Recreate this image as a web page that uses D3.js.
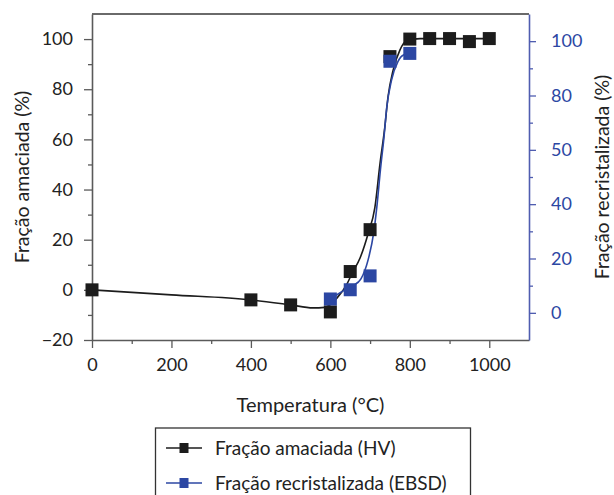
<!DOCTYPE html>
<html><head><meta charset="utf-8">
<script src="https://cdn.jsdelivr.net/npm/d3@7"></script>
<style>
html,body{margin:0;padding:0;background:#fff;}
svg{display:block;font-family:Lato,"Open Sans",sans-serif;}
</style></head>
<body>
<svg id="chart" width="614" height="495"></svg>
<script>
// ---- data ----
const hvTemp = [0, 400, 500, 600, 650, 700, 750, 800, 850, 900, 950, 1000];
const hvValues = [0, -4, -6, -8.8, 7.3, 24, 93, 100, 100.2, 100.2, 99, 100.2];
const ebsdTemp = [600, 650, 700, 750, 800];
const ebsdValues = [5.1, 8.5, 13.6, 92.6, 95.5];
// fitted curves
const hvFitTemp = [0, 200, 400, 500, 556, 586, 617, 642, 654, 675, 695, 712, 725, 737, 745, 758, 775, 793, 826, 1000];
const hvFitValues = [0, -2, -4, -6, -7.2, -7.0, -3.2, 2.4, 6.4, 12.8, 22.4, 32.8, 50.4, 64.8, 76.8, 87.6, 95.6, 99.4, 100.2, 100.2];
const ebsdFitTemp = [600, 637, 657, 677, 695, 709, 717, 726, 735, 742, 754, 770, 785, 800];
const ebsdFitValues = [5, 8.5, 10, 12.5, 19.5, 29.4, 39, 52.6, 64.7, 75.7, 85.7, 92.5, 95, 95.5];
const xTicks = [0, 200, 400, 600, 800, 1000];
const leftTicks = [-20, 0, 20, 40, 60, 80, 100];
const rightTicks = [0, 20, 40, 60, 80, 100];
const rightTickLabels = ["0", "20", "40", "50", "80", "100"];
const seriesNames = ["Fração amaciada (HV)", "Fração recristalizada (EBSD)"];

const black = "#1c1c1c", blue = "#2c47a3", blueAxis = "#4f5db0", grey = "#5a5a5a";

const svg = d3.select("#chart");
const x = d3.scaleLinear([0, 1100], [92, 529]);
const yL = d3.scaleLinear([-20, 110], [340, 14]);
const yR = d3.scaleLinear([-10, 110], [340, 14]);

// top frame line
svg.append("line").attr("x1", x(0)).attr("x2", x(1100)).attr("y1", 14).attr("y2", 14)
  .attr("stroke", "#6a6a6a").attr("stroke-width", 2);

function styleAxis(g, color, fs) {
  g.select(".domain").attr("stroke", color).attr("stroke-width", 1.6);
  g.selectAll(".tick line").attr("stroke", color).attr("stroke-width", 1.3);
  g.selectAll(".tick text").attr("fill", color).attr("font-size", fs).attr("font-family", "Lato");
}

// bottom axis
const gx = svg.append("g").attr("transform", "translate(0,340)")
  .call(d3.axisBottom(x).tickValues(xTicks).tickSize(8).tickSizeOuter(0).tickPadding(10).tickFormat(d3.format("d")));
styleAxis(gx, grey, 18);
gx.selectAll(".tick text").attr("fill", "#222");
svg.append("g").attr("transform", "translate(0,340)")
  .call(d3.axisBottom(x).tickValues([100, 300, 500, 700, 900]).tickSize(4).tickFormat(""))
  .call(g => { g.select(".domain").remove(); g.selectAll("line").attr("stroke", grey).attr("stroke-width", 1.3); });

// left axis
const gl = svg.append("g").attr("transform", "translate(92,0)")
  .call(d3.axisLeft(yL).tickValues(leftTicks).tickSize(8).tickSizeOuter(0).tickPadding(11)
    .tickFormat(d => d < 0 ? "\u2212" + Math.abs(d) : d));
styleAxis(gl, grey, 18);
gl.selectAll(".tick text").attr("fill", "#222");
svg.append("g").attr("transform", "translate(92,0)")
  .call(d3.axisLeft(yL).tickValues([-10, 10, 30, 50, 70, 90]).tickSize(4).tickFormat(""))
  .call(g => { g.select(".domain").remove(); g.selectAll("line").attr("stroke", grey).attr("stroke-width", 1.3); });

// right axis
const gr = svg.append("g").attr("transform", "translate(529,0)")
  .call(d3.axisRight(yR).tickValues(rightTicks).tickSize(7).tickSizeOuter(0).tickPadding(15)
    .tickFormat((d, i) => rightTickLabels[i]));
styleAxis(gr, blueAxis, 18);
gr.selectAll(".tick text").attr("fill", blue);
svg.append("g").attr("transform", "translate(529,0)")
  .call(d3.axisRight(yR).tickValues([10, 30, 50, 70, 90]).tickSize(4).tickFormat(""))
  .call(g => { g.select(".domain").remove(); g.selectAll("line").attr("stroke", blueAxis).attr("stroke-width", 1.3); });

// axis titles
svg.append("text").attr("transform", `translate(29,${(yL(-20)+yL(110))/2}) rotate(-90)`)
  .attr("text-anchor", "middle").attr("font-size", 19.5).attr("fill", "#222").text("Fração amaciada (%)");
svg.append("text").attr("transform", `translate(609,${(yR(-10)+yR(110))/2}) rotate(-90)`)
  .attr("text-anchor", "middle").attr("font-size", 19.5).attr("fill", "#222").text("Fração recristalizada (%)");
svg.append("text").attr("x", (x(0)+x(1100))/2).attr("y", 412)
  .attr("text-anchor", "middle").attr("font-size", 20).attr("fill", "#222").text("Temperatura (°C)");

// curves
const hvLine = d3.line().x(d => x(d[0])).y(d => yL(d[1])).curve(d3.curveMonotoneX);
const ebLine = d3.line().x(d => x(d[0])).y(d => yR(d[1])).curve(d3.curveMonotoneX);
svg.append("path").datum(d3.zip(hvFitTemp, hvFitValues)).attr("d", hvLine)
  .attr("fill", "none").attr("stroke", black).attr("stroke-width", 1.6);
svg.append("path").datum(d3.zip(ebsdFitTemp, ebsdFitValues)).attr("d", ebLine)
  .attr("fill", "none").attr("stroke", blue).attr("stroke-width", 1.6);

// markers
const s = 13;
svg.append("g").selectAll("rect").data(d3.zip(hvTemp, hvValues)).join("rect")
  .attr("x", d => x(d[0]) - s/2).attr("y", d => yL(d[1]) - s/2).attr("width", s).attr("height", s)
  .attr("fill", black);
svg.append("g").selectAll("rect").data(d3.zip(ebsdTemp, ebsdValues)).join("rect")
  .attr("x", d => x(d[0]) - s/2).attr("y", d => yR(d[1]) - s/2).attr("width", s).attr("height", s)
  .attr("fill", blue);

// legend
const lg = svg.append("g");
lg.append("rect").attr("x", 155.5).attr("y", 428).attr("width", 315).attr("height", 80)
  .attr("fill", "#fff").attr("stroke", "#333").attr("stroke-width", 1.3);
const legColors = [black, blue];
const legY = [448, 483];
seriesNames.forEach((name, i) => {
  lg.append("line").attr("x1", 166).attr("x2", 202).attr("y1", legY[i]).attr("y2", legY[i])
    .attr("stroke", legColors[i]).attr("stroke-width", 1.6);
  lg.append("rect").attr("x", 184 - 4.5).attr("y", legY[i] - 5).attr("width", 9).attr("height", 10)
    .attr("fill", legColors[i]);
  lg.append("text").attr("x", 215).attr("y", legY[i]).attr("dy", "0.35em")
    .attr("font-size", 19).attr("fill", "#222").text(name);
});
</script>
</body></html>
